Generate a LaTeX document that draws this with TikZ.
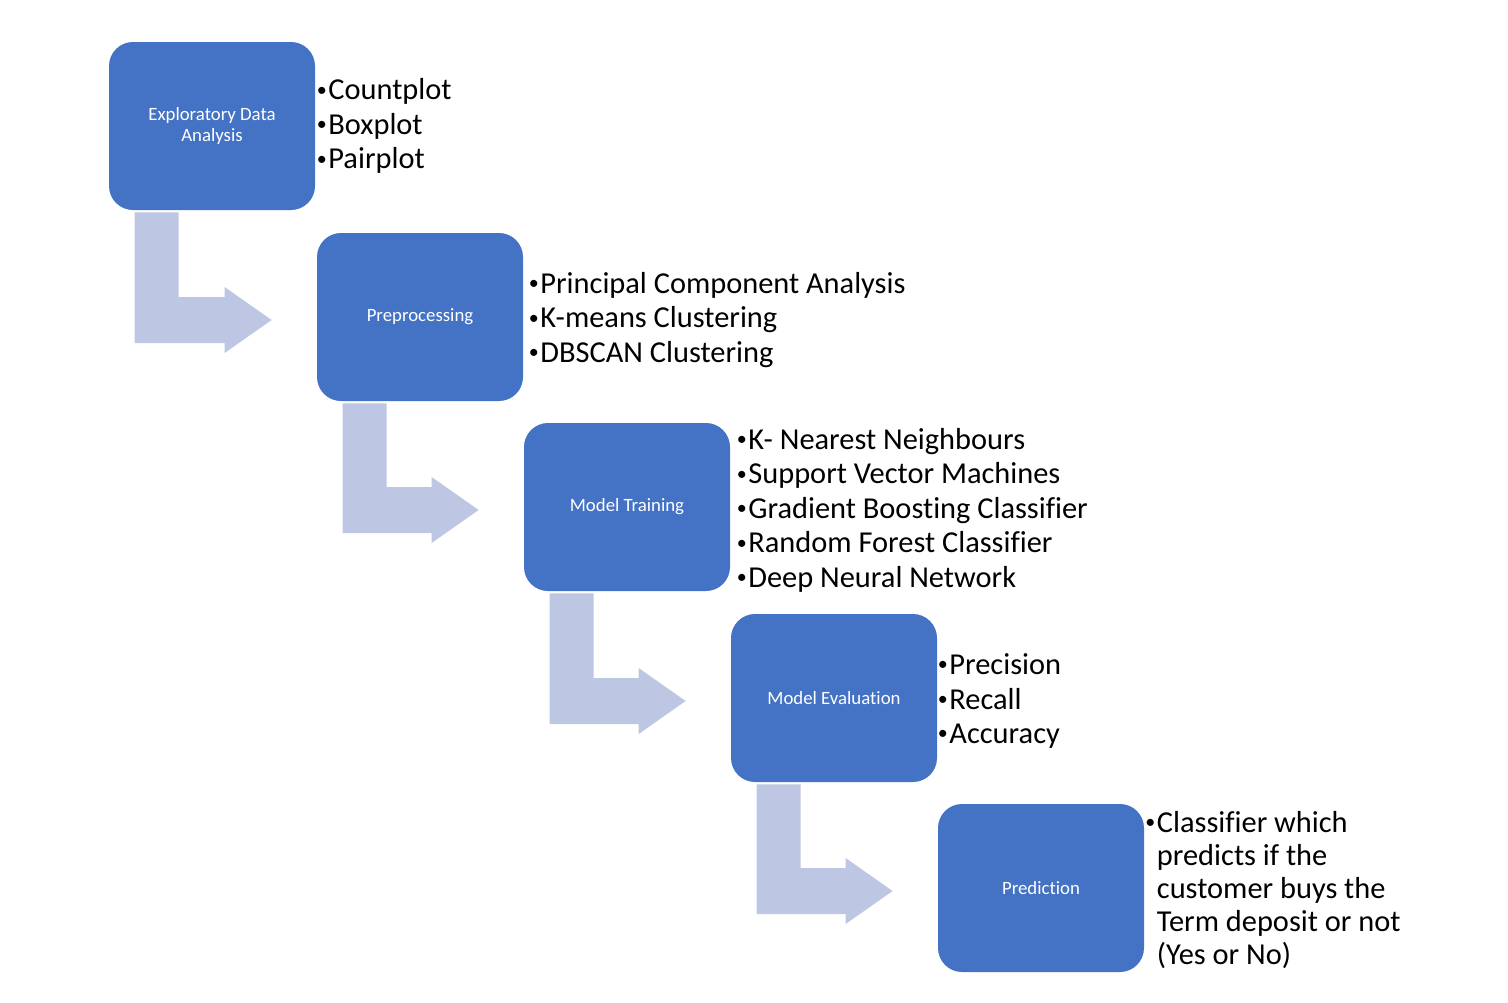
\documentclass[tikz,border=0pt]{standalone}
\usepackage{fontspec}
\setmainfont[Ligatures=NoCommon]{Carlito}
\usetikzlibrary{calc}

\definecolor{boxblue}{HTML}{4472C4}
\definecolor{arrowblue}{HTML}{BDC6E2}

\tikzset{
	stage/.style={fill=boxblue, rounded corners=12pt, minimum width=103pt, minimum height=84pt,
		inner sep=0pt, text=white, align=center, font=\fontsize{9.4}{10.5}\selectfont},
	items/.style={anchor=west, inner sep=0pt, align=left, font=\fontsize{15.2}{17.25}\selectfont},
	bendarrow/.style={fill=arrowblue}
}

% small bullet in front of each item
\newcommand{\itm}{\makebox[5.8pt][l]{\raisebox{1.8pt}{\fontsize{10}{10}\selectfont •}}}

% bent block arrow from under one stage to the left of the next
\newcommand{\steparrow}[2]{%
	\fill[bendarrow] ($(#1.south west)+(26,2)$) coordinate (p0) -- ++(44,0)
		|- ($(#2.west)+(-92,-20)$) -- ++(0,-10) -- ($(#2.west)+(-45,3)$)
		-- ++(-47,33) -- ++(0,-10) -| (p0) -- cycle;}

\begin{document}
\begin{tikzpicture}[x=0.5pt, y=-0.5pt]
	\useasboundingbox (0,0) rectangle (1508,1002);

	\node[stage] (A) at (212,126)  {Exploratory Data\\Analysis};
	\node[stage] (B) at (420,317)  {Preprocessing};
	\node[stage] (C) at (627,507)  {Model Training};
	\node[stage] (D) at (834,698)  {Model Evaluation};
	\node[stage] (E) at (1041,888) {Prediction};

	\node[items] (LA) at ($(A.east)+(1,0)$) {\itm Countplot\\\itm Boxplot\\\itm Pairplot};
	\node[items] (LB) at ($(B.east)+(5,3)$) {\itm Principal Component Analysis\\\itm K-means Clustering\\\itm DBSCAN Clustering};
	\node[items] (LC) at ($(C.east)+(6,3)$) {\itm K- Nearest Neighbours\\\itm Support Vector Machines\\\itm Gradient Boosting Classifier\\\itm Random Forest Classifier\\\itm Deep Neural Network};
	\node[items] (LD) at ($(D.east)+(0,3)$) {\itm Precision\\\itm Recall\\\itm Accuracy};
	\node[items, font=\fontsize{15.2}{16.5}\selectfont] (LE) at ($(E.east)+(0.5,2)$)
		{\itm Classifier which\\\phantom{\itm}predicts if the\\\phantom{\itm}customer buys the\\\phantom{\itm}Term deposit or not\\\phantom{\itm}(Yes or No)};

	\steparrow{A}{B}
	\steparrow{B}{C}
	\steparrow{C}{D}
	\steparrow{D}{E}
\end{tikzpicture}
\end{document}
